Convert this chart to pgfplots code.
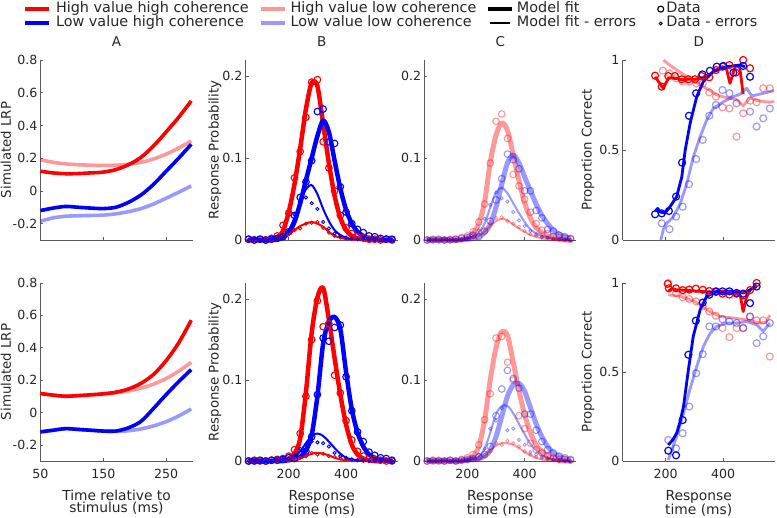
\documentclass[border=0pt]{standalone}
\usepackage{fontspec}
\setmainfont{DejaVu Sans}
\usepackage{pgfplots}
\usepackage{pgfplotstable}
\pgfplotsset{compat=1.18}
\definecolor{tc}{RGB}{38,38,38}
\definecolor{axc}{RGB}{90,90,90}
\newcommand\tickfont{\fontsize{12.6}{13}\selectfont}
\newcommand\labfont{\fontsize{13.3}{14}\selectfont}
\newcommand\xlabfont{\fontsize{13.8}{12.3}\selectfont}
\newcommand\titfont{\fontsize{13.5}{14}\selectfont}
\newcommand\legfont{\fontsize{14.4}{14.3}\selectfont}

\pgfplotsset{
  panel/.style={scale only axis, width=152pt, axis lines=left,
    axis line style={-, draw=axc, line width=0.7pt},
    tick align=inside, major tick length=3pt, tick style={draw=axc, line width=0.6pt},
    xticklabel style={font=\tickfont, text=tc, inner sep=0pt, yshift=-8pt},
    yticklabel style={font=\tickfont, text=tc, inner sep=0pt, xshift=-3pt},
    title style={font=\titfont, text=tc, at={(0.5,1)}, anchor=base, yshift=7pt},
    ylabel style={font=\labfont, text=tc, at={(axis description cs:-0.228,0.5)}, anchor=center, inner sep=0pt},
    xlabel style={font=\xlabfont, text=tc, align=center, at={(axis description cs:0.5,0)}, anchor=north, inner sep=0pt, yshift=-29pt},
    enlargelimits=false, clip=false, /pgf/number format/assume math mode=true},
  panA/.style={panel, xmin=50, xmax=292, ymin=-0.3, ymax=0.8, xtick={50,150,250},
    ytick={-0.2,0,0.2,0.4,0.6,0.8}, yticklabels={-0.2,0,0.2,0.4,0.6,0.8}, ylabel={Simulated LRP}},
  panB/.style={panel, xmin=50, xmax=580, ymin=0, ymax=0.22, xtick={200,400},
    ytick={0,0.1,0.2}, yticklabels={0,0.1,0.2}},
  panD/.style={panel, xmin=50, xmax=580, ymin=0, ymax=1, xtick={200,400},
    ytick={0,0.5,1}, yticklabels={0,0.5,1}, ylabel={Proportion Correct}},
  lthk/.style={line width=3.6pt, line join=round, no markers, smooth},
  thk/.style={line width=4.5pt, line join=round, no markers, smooth},
  thn/.style={line width=2pt, line join=round, no markers, smooth},
  dthk/.style={line width=2.8pt, line join=round, no markers},
  dat/.style={only marks, mark=o, mark size=3.3pt, mark options={line width=1.1pt}},
  daterr/.style={only marks, mark=o, mark size=1.6pt, mark options={line width=0.9pt}},
  ddat/.style={only marks, mark=o, mark size=3.5pt, mark options={line width=1.2pt}},
  pk/.style={red, opacity=0.4},
  lb/.style={blue, opacity=0.4},
}

\pgfplotstableread{
t R P B L
50 0.120 0.190 -0.120 -0.185
70 0.110 0.175 -0.105 -0.165
90 0.105 0.165 -0.095 -0.155
110 0.106 0.160 -0.100 -0.152
130 0.110 0.157 -0.105 -0.150
150 0.115 0.155 -0.108 -0.148
170 0.130 0.157 -0.100 -0.140
190 0.160 0.163 -0.070 -0.127
210 0.205 0.175 -0.025 -0.108
230 0.275 0.195 0.040 -0.080
250 0.360 0.225 0.120 -0.045
270 0.450 0.262 0.200 -0.008
290 0.550 0.305 0.285 0.030
}\tabAtop

\pgfplotstableread{
t R P B L
50 0.117 0.117 -0.120 -0.120
70 0.107 0.107 -0.110 -0.110
90 0.100 0.100 -0.100 -0.100
110 0.104 0.104 -0.105 -0.105
130 0.109 0.109 -0.110 -0.110
150 0.115 0.114 -0.115 -0.115
170 0.125 0.121 -0.115 -0.117
190 0.145 0.133 -0.095 -0.113
210 0.180 0.150 -0.055 -0.102
230 0.235 0.175 0.025 -0.083
250 0.320 0.210 0.110 -0.057
270 0.430 0.255 0.190 -0.022
290 0.570 0.310 0.265 0.022
}\tabAbot

\pgfplotstableread{
t R Re Rd Rde B Be Bd Bde
60 0 0 0.001 0 0 0 0.001 0
80 0 0 0 0 0 0 0 0.001
100 0 0 0.001 0 0 0 0.001 0
120 0 0 0 0.001 0 0 0 0
140 0.001 0 0.002 0 0 0 0.001 0.001
160 0.003 0.001 0.005 0.002 0.001 0.001 0.002 0.002
180 0.011 0.003 0.018 0.004 0.003 0.004 0.004 0.004
200 0.034 0.007 0.033 0.007 0.009 0.012 0.010 0.011
220 0.068 0.012 0.076 0.012 0.022 0.027 0.030 0.031
240 0.112 0.017 0.108 0.014 0.045 0.046 0.052 0.047
260 0.160 0.020 0.150 0.020 0.073 0.062 0.071 0.052
280 0.192 0.022 0.193 0.021 0.100 0.067 0.097 0.045
300 0.188 0.020 0.196 0.022 0.127 0.056 0.157 0.038
320 0.142 0.016 0.120 0.015 0.146 0.038 0.160 0.022
340 0.094 0.010 0.088 0.009 0.132 0.023 0.120 0.014
360 0.054 0.005 0.060 0.005 0.097 0.012 0.118 0.008
380 0.027 0.003 0.030 0.003 0.063 0.006 0.065 0.005
400 0.012 0.001 0.015 0.002 0.037 0.003 0.034 0.003
420 0.005 0.001 0.008 0.001 0.020 0.001 0.020 0.002
440 0.002 0 0.004 0.001 0.010 0.001 0.013 0.001
460 0.001 0 0.003 0 0.005 0 0.009 0.001
480 0 0 0.001 0 0.002 0 0.005 0
500 0 0 0.001 0 0.001 0 0.004 0
520 0 0 0 0 0 0 0.002 0
540 0 0 0.001 0 0 0 0.001 0
560 0 0 0 0 0 0 0.001 0
}\tabBtop

\pgfplotstableread{
t R Re Rd Rde B Be Bd Bde
60 0 0 0 0 0 0 0 0
80 0 0 0.001 0 0 0 0 0
100 0 0 0 0 0 0 0.001 0
120 0 0 0 0.001 0 0 0 0
140 0 0 0.001 0 0 0 0.001 0
160 0.001 0 0.002 0 0 0 0.001 0.001
180 0.002 0 0.003 0.001 0 0.001 0.002 0.002
200 0.003 0.001 0.006 0.001 0.001 0.002 0.004 0.003
220 0.009 0.001 0.014 0.003 0.002 0.005 0.003 0.007
240 0.028 0.003 0.034 0.004 0.005 0.012 0.008 0.015
260 0.085 0.006 0.080 0.006 0.013 0.022 0.012 0.020
280 0.158 0.009 0.150 0.010 0.032 0.031 0.030 0.024
300 0.202 0.010 0.198 0.008 0.080 0.034 0.082 0.023
320 0.214 0.009 0.166 0.009 0.145 0.031 0.152 0.022
340 0.175 0.007 0.170 0.006 0.172 0.024 0.148 0.018
360 0.127 0.004 0.106 0.005 0.178 0.016 0.165 0.010
380 0.082 0.002 0.084 0.003 0.163 0.009 0.168 0.006
400 0.045 0.001 0.050 0.002 0.110 0.004 0.104 0.004
420 0.020 0 0.026 0.001 0.064 0.002 0.062 0.002
440 0.008 0 0.012 0.001 0.035 0.001 0.036 0.001
460 0.003 0 0.006 0 0.018 0 0.024 0.001
480 0.001 0 0.003 0 0.008 0 0.011 0
500 0 0 0.002 0 0.004 0 0.007 0
520 0 0 0.001 0 0.002 0 0.004 0
540 0 0 0 0 0.001 0 0.003 0
560 0 0 0 0 0 0 0.001 0
}\tabBbot

\pgfplotstableread{
t P Pe Pd Pde L Le Ld Lde
60 0 0 0 0 0 0 0 0
80 0 0 0.001 0 0 0 0 0
100 0 0 0 0 0 0 0.001 0
120 0 0 0 0 0 0 0 0.001
140 0 0 0.001 0 0 0 0 0
160 0 0 0.001 0.001 0 0 0.001 0
180 0.001 0 0.003 0.001 0 0.001 0.002 0.001
200 0.003 0.001 0.005 0.002 0.001 0.002 0.003 0.003
220 0.008 0.002 0.010 0.004 0.002 0.004 0.006 0.007
240 0.020 0.005 0.022 0.007 0.004 0.009 0.004 0.012
260 0.046 0.010 0.044 0.012 0.009 0.020 0.011 0.026
280 0.095 0.017 0.094 0.020 0.019 0.040 0.023 0.043
300 0.128 0.023 0.145 0.027 0.040 0.058 0.049 0.058
320 0.143 0.026 0.154 0.028 0.068 0.064 0.075 0.051
340 0.134 0.024 0.124 0.023 0.094 0.057 0.105 0.047
360 0.104 0.019 0.080 0.020 0.104 0.045 0.098 0.034
380 0.073 0.014 0.066 0.016 0.094 0.033 0.087 0.024
400 0.045 0.010 0.050 0.011 0.077 0.022 0.060 0.017
420 0.027 0.006 0.034 0.007 0.060 0.013 0.060 0.011
440 0.015 0.004 0.020 0.005 0.044 0.008 0.036 0.007
460 0.009 0.002 0.012 0.003 0.030 0.005 0.027 0.004
480 0.005 0.001 0.008 0.002 0.020 0.003 0.013 0.003
500 0.003 0 0.004 0.001 0.012 0.002 0.011 0.002
520 0.001 0 0.003 0.001 0.007 0.001 0.006 0.001
540 0 0 0.002 0 0.004 0 0.004 0.001
560 0 0 0.001 0 0.002 0 0.002 0
}\tabCtop

\pgfplotstableread{
t P Pe Pd Pde L Le Ld Lde
60 0 0 0 0 0 0 0 0
80 0 0 0 0 0 0 0.001 0
100 0 0 0.001 0 0 0 0 0
120 0 0 0 0 0 0 0 0.001
140 0 0 0.001 0 0 0 0.001 0
160 0 0 0 0.001 0 0 0 0
180 0.001 0 0.002 0.001 0 0 0.001 0.001
200 0.002 0.001 0.004 0.001 0.001 0.001 0.002 0.002
220 0.006 0.001 0.008 0.003 0.002 0.002 0.003 0.004
240 0.018 0.002 0.020 0.004 0.003 0.005 0.005 0.008
260 0.050 0.006 0.051 0.008 0.006 0.015 0.008 0.015
280 0.100 0.013 0.083 0.012 0.013 0.035 0.018 0.040
300 0.140 0.019 0.152 0.022 0.030 0.058 0.056 0.050
320 0.160 0.022 0.154 0.020 0.055 0.068 0.089 0.065
340 0.155 0.022 0.122 0.025 0.080 0.068 0.112 0.038
360 0.122 0.020 0.100 0.022 0.094 0.059 0.102 0.040
380 0.087 0.016 0.056 0.018 0.096 0.046 0.090 0.026
400 0.057 0.011 0.040 0.012 0.086 0.033 0.058 0.020
420 0.035 0.007 0.022 0.008 0.066 0.021 0.058 0.011
440 0.020 0.004 0.014 0.005 0.046 0.013 0.038 0.008
460 0.012 0.002 0.010 0.003 0.030 0.007 0.024 0.005
480 0.006 0.001 0.006 0.002 0.018 0.004 0.014 0.003
500 0.003 0 0.004 0.001 0.010 0.002 0.010 0.002
520 0.001 0 0.002 0 0.006 0.001 0.006 0.001
540 0 0 0.002 0 0.003 0 0.004 0
560 0 0 0.001 0 0.001 0 0.002 0
}\tabCbot

\begin{document}
\begin{tikzpicture}
% ================= TOP ROW =================
\begin{axis}[panA, at={(40.5pt,278pt)}, anchor=south west, height=180pt, xticklabels={}, title={A},
  legend columns=4, legend cell align=left,
  legend style={at={(axis description cs:-0.1151,1.3222)}, anchor=north west, draw=none, fill=none,
    inner sep=0pt, outer sep=0pt, font=\legfont, text=tc, row sep=0pt,
    nodes={inner sep=0pt, text height=10.6pt, text depth=3.7pt},
    /tikz/column 1/.style={column sep=5pt},
    /tikz/column 2/.style={column sep=10pt},
    /tikz/column 3/.style={column sep=4pt},
    /tikz/column 4/.style={column sep=9pt},
    /tikz/column 5/.style={column sep=3pt},
    /tikz/column 6/.style={column sep=21pt},
    /tikz/column 7/.style={column sep=2pt}}]
\addlegendimage{legend image code/.code={\draw[red, line width=4pt] (0pt,0pt) -- (24pt,0pt);}}
\addlegendentry{High value high coherence}
\addlegendimage{legend image code/.code={\draw[red!40, line width=4pt] (0pt,0pt) -- (24pt,0pt);}}
\addlegendentry{High value low coherence}
\addlegendimage{legend image code/.code={\draw[black, line width=4.5pt] (0pt,0pt) -- (24pt,0pt);}}
\addlegendentry{Model fit}
\addlegendimage{legend image code/.code={\draw[black, line width=1.1pt] (3.5pt,0pt) circle (3pt);}}
\addlegendentry{Data}
\addlegendimage{legend image code/.code={\draw[blue, line width=4pt] (0pt,0pt) -- (24pt,0pt);}}
\addlegendentry{Low value high coherence}
\addlegendimage{legend image code/.code={\draw[blue!40, line width=4pt] (0pt,0pt) -- (24pt,0pt);}}
\addlegendentry{Low value low coherence}
\addlegendimage{legend image code/.code={\draw[black, line width=2pt] (2pt,0pt) -- (22pt,0pt);}}
\addlegendentry{Model fit - errors}
\addlegendimage{legend image code/.code={\draw[black, line width=0.9pt] (3.5pt,0pt) circle (1.5pt);}}
\addlegendentry{Data - errors}
\addplot[lthk, pk, forget plot] table[x=t, y=P] {\tabAtop};
\addplot[lthk, lb, forget plot] table[x=t, y=L] {\tabAtop};
\addplot[lthk, red, forget plot] table[x=t, y=R] {\tabAtop};
\addplot[lthk, blue, forget plot] table[x=t, y=B] {\tabAtop};
\end{axis}

\begin{axis}[panB, at={(245.7pt,278pt)}, anchor=south west, height=180pt, xticklabels={}, title={B},
  ylabel={Response Probability}, ylabel style={at={(axis description cs:-0.202,0.5)}}]
\addplot[thk, red] table[x=t, y=R] {\tabBtop};
\addplot[thk, blue] table[x=t, y=B] {\tabBtop};
\addplot[thn, red] table[x=t, y=Re] {\tabBtop};
\addplot[thn, blue] table[x=t, y=Be] {\tabBtop};
\addplot[dat, red] table[x=t, y=Rd] {\tabBtop};
\addplot[dat, blue] table[x=t, y=Bd] {\tabBtop};
\addplot[daterr, red] table[x=t, y=Rde] {\tabBtop};
\addplot[daterr, blue] table[x=t, y=Bde] {\tabBtop};
\end{axis}

\begin{axis}[panB, at={(424.3pt,278pt)}, anchor=south west, height=180pt, xticklabels={}, title={C}]
\addplot[thk, line width=5pt, pk] table[x=t, y=P] {\tabCtop};
\addplot[thk, line width=5pt, lb] table[x=t, y=L] {\tabCtop};
\addplot[thn, pk] table[x=t, y=Pe] {\tabCtop};
\addplot[thn, lb] table[x=t, y=Le] {\tabCtop};
\addplot[dat, pk] table[x=t, y=Pd] {\tabCtop};
\addplot[dat, lb] table[x=t, y=Ld] {\tabCtop};
\addplot[daterr, pk] table[x=t, y=Pde] {\tabCtop};
\addplot[daterr, lb] table[x=t, y=Lde] {\tabCtop};
\end{axis}

\begin{axis}[panD, at={(622.7pt,278pt)}, anchor=south west, height=180pt, xticklabels={}, title={D}]
\addplot[dthk, pk] coordinates {(192,1.0) (215,0.97) (238,0.945) (262,0.92) (284,0.898) (308,0.875) (331,0.852) (355,0.83) (378,0.806) (401,0.795) (424,0.787) (447,0.78) (470,0.745) (494,0.79) (517,0.775) (540,0.77) (563,0.765) (578,0.77)};
\addplot[dthk, lb] coordinates {(183,0.0) (192,0.06) (203,0.093) (215,0.11) (227,0.13) (250,0.2) (273,0.31) (296,0.46) (320,0.574) (343,0.667) (366,0.731) (401,0.768) (436,0.796) (459,0.81) (482,0.843) (500,0.8) (540,0.815) (578,0.83)};
\addplot[ddat, pk] coordinates {(190,0.941) (213,0.926) (236,0.898) (259,0.88) (282,0.88) (306,0.87) (329,0.87) (352,0.82) (375,0.796) (398,0.737) (422,0.731) (447,0.574) (470,0.704) (494,0.774) (517,0.765) (540,0.843) (563,0.843)};
\addplot[ddat, lb] coordinates {(186,0.093) (213,0.06) (236,0.13) (259,0.185) (281,0.31) (306,0.45) (329,0.556) (352,0.69) (375,0.75) (398,0.833) (422,0.815) (447,0.76) (494,0.713) (517,0.63) (540,0.676) (563,0.731)};
\addplot[dthk, red] coordinates {(163,0.907) (175,0.88) (190,0.845) (200,0.87) (210,0.9) (232,0.9) (256,0.89) (279,0.893) (302,0.893) (325,0.9) (352,0.92) (375,0.944) (398,0.963) (412,0.95) (424,0.87) (444,0.97) (458,0.96) (470,0.81)};
\addplot[dthk, blue] coordinates {(163,0.16) (172,0.175) (182,0.155) (198,0.15) (215,0.185) (238,0.24) (256,0.35) (268,0.5) (285,0.648) (308,0.796) (331,0.88) (366,0.935) (413,0.963) (459,0.972) (476,0.963)};
\addplot[ddat, red] coordinates {(163,0.913) (186,0.852) (209,0.911) (232,0.911) (256,0.893) (279,0.893) (302,0.893) (325,0.911) (352,0.904) (375,0.944) (398,0.963) (422,0.972) (444,0.93) (470,1.0) (494,0.954)};
\addplot[ddat, blue] coordinates {(163,0.143) (186,0.148) (211,0.161) (236,0.241) (257,0.43) (281,0.69) (306,0.815) (328,0.92) (354,0.94) (378,0.963) (401,0.967) (436,0.93) (470,0.967) (494,0.907)};
\end{axis}

% ================= BOTTOM ROW =================
\begin{axis}[panA, at={(40.5pt,57pt)}, anchor=south west, height=178pt,
  xticklabels={50,150,250}, xlabel={Time relative to\\stimulus (ms)}]
\addplot[lthk, pk] table[x=t, y=P] {\tabAbot};
\addplot[lthk, lb] table[x=t, y=L] {\tabAbot};
\addplot[lthk, red] table[x=t, y=R] {\tabAbot};
\addplot[lthk, blue] table[x=t, y=B] {\tabAbot};
\end{axis}

\begin{axis}[panB, at={(245.7pt,57pt)}, anchor=south west, height=178pt,
  xticklabels={200,400}, xlabel={Response\\time (ms)},
  ylabel={Response Probability}, ylabel style={at={(axis description cs:-0.202,0.5)}}]
\addplot[thk, red] table[x=t, y=R] {\tabBbot};
\addplot[thk, blue] table[x=t, y=B] {\tabBbot};
\addplot[thn, red] table[x=t, y=Re] {\tabBbot};
\addplot[thn, blue] table[x=t, y=Be] {\tabBbot};
\addplot[dat, red] table[x=t, y=Rd] {\tabBbot};
\addplot[dat, blue] table[x=t, y=Bd] {\tabBbot};
\addplot[daterr, red] table[x=t, y=Rde] {\tabBbot};
\addplot[daterr, blue] table[x=t, y=Bde] {\tabBbot};
\end{axis}

\begin{axis}[panB, at={(424.3pt,57pt)}, anchor=south west, height=178pt,
  xticklabels={200,400}, xlabel={Response\\time (ms)}]
\addplot[thk, line width=5pt, pk] table[x=t, y=P] {\tabCbot};
\addplot[thk, line width=5pt, lb] table[x=t, y=L] {\tabCbot};
\addplot[thn, pk] table[x=t, y=Pe] {\tabCbot};
\addplot[thn, lb] table[x=t, y=Le] {\tabCbot};
\addplot[dat, pk] table[x=t, y=Pd] {\tabCbot};
\addplot[dat, lb] table[x=t, y=Ld] {\tabCbot};
\addplot[daterr, pk] table[x=t, y=Pde] {\tabCbot};
\addplot[daterr, lb] table[x=t, y=Lde] {\tabCbot};
\end{axis}

\begin{axis}[panD, at={(622.7pt,57pt)}, anchor=south west, height=178pt,
  xticklabels={200,400}, xlabel={Response\\time (ms)}]
\addplot[dthk, pk] coordinates {(209,0.934) (250,0.925) (296,0.9) (320,0.88) (343,0.85) (366,0.83) (390,0.812) (436,0.803) (482,0.794) (529,0.775) (550,0.78) (563,0.82)};
\addplot[dthk, lb] coordinates {(209,0.006) (238,0.137) (262,0.268) (284,0.4) (308,0.53) (331,0.643) (355,0.718) (378,0.756) (413,0.775) (448,0.775) (482,0.784) (517,0.765) (540,0.728) (563,0.775)};
\addplot[ddat, pk] coordinates {(209,1.0) (236,0.944) (259,0.92) (282,0.91) (306,0.897) (329,0.869) (352,0.84) (375,0.816) (398,0.747) (422,0.696) (447,0.747) (470,0.747) (494,0.81) (517,0.79) (540,0.79) (563,0.587)};
\addplot[ddat, lb] coordinates {(209,0.118) (236,0.071) (259,0.156) (282,0.306) (306,0.493) (329,0.6) (352,0.756) (375,0.756) (398,0.797) (422,0.784) (447,0.775) (470,0.747) (494,0.812) (517,0.662) (540,0.7) (563,0.775)};
\addplot[dthk, red] coordinates {(209,0.953) (222,0.97) (236,0.962) (259,0.96) (282,0.958) (305,0.955) (329,0.952) (352,0.95) (375,0.95) (398,0.945) (422,0.945) (447,0.94) (460,0.93) (470,0.84) (482,0.92) (494,0.96) (517,0.99)};
\addplot[dthk, blue] coordinates {(209,0.09) (225,0.12) (238,0.156) (250,0.22) (262,0.306) (279,0.512) (296,0.7) (320,0.85) (343,0.925) (378,0.953) (413,0.953) (448,0.953) (470,0.944) (494,0.962) (517,0.98)};
\addplot[ddat, red] coordinates {(207,0.995) (211,0.97) (236,0.97) (259,0.96) (282,0.963) (305,0.968) (329,0.962) (352,0.955) (375,0.95) (398,0.94) (422,0.935) (447,0.94) (470,0.93) (494,0.96) (517,1.0)};
\addplot[ddat, blue] coordinates {(209,0.058) (236,0.032) (259,0.23) (279,0.597) (305,0.788) (329,0.89) (352,0.934) (375,0.953) (398,0.953) (422,0.953) (447,0.944) (470,0.94) (494,0.887) (517,0.98)};
\end{axis}

\pgfresetboundingbox
\path (0pt,0pt) rectangle (777pt,518pt);
\end{tikzpicture}
\end{document}
